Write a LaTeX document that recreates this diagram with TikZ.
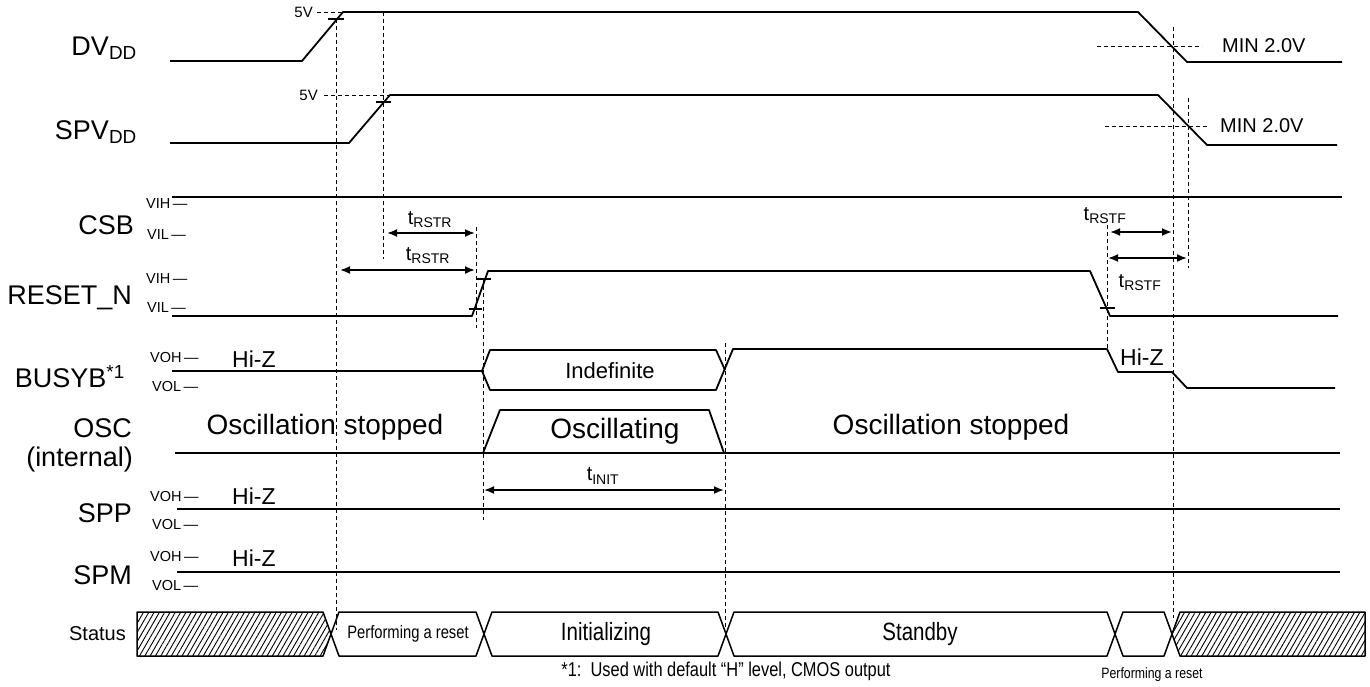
\documentclass[tikz,border=0pt]{standalone}
\usepackage{fontspec}
\setmainfont{Liberation Sans}
\newfontfamily\narrowfont[FakeStretch=0.82]{Liberation Sans}
\usetikzlibrary{arrows.meta,patterns.meta}
\begin{document}
\begin{tikzpicture}[
	x=1pt,
	y=-1pt,
	wave/.style={line width=1.8pt, line join=round},
	phasebox/.style={line width=1.5pt, line join=round},
	hatch/.style={pattern={Lines[angle=60,distance=4.6pt,line width=0.9pt]}},
	guide/.style={line width=0.9pt, dash pattern=on 4pt off 3pt},
	vtick/.style={line width=1.3pt},
	span/.style={
		line width=1.8pt,
		{Latex[length=10pt,width=8pt]}-{Latex[length=10pt,width=8pt]}
	},
	signame/.style={anchor=east, inner sep=0pt, font=\fontsize{27}{30}\selectfont},
	lvtext/.style={anchor=west, inner sep=0pt, font=\fontsize{14.5}{16}\selectfont},
	volt/.style={inner sep=0pt, font=\fontsize{15}{17}\selectfont},
	minv/.style={anchor=west, inner sep=0pt, font=\fontsize{20}{22}\selectfont},
	hiz/.style={anchor=west, inner sep=0pt, font=\fontsize{23}{25}\selectfont},
	big/.style={inner sep=0pt, font=\fontsize{28}{31}\selectfont},
	tlabel/.style={inner sep=0pt, font=\fontsize{20}{22}\selectfont},
	phase/.style={inner sep=0pt, font=\narrowfont\fontsize{25}{27}\selectfont},
	smallphase/.style={inner sep=0pt, font=\narrowfont\fontsize{18}{20}\selectfont},
	note/.style={inner sep=0pt, font=\narrowfont\fontsize{#1}{22}\selectfont}
]
\useasboundingbox (0,0) rectangle (1370,686);

\node[signame] (dvdd) at (137,48) {DV\textsubscript{DD}};
\node[signame] (spvdd) at (137,132) {SPV\textsubscript{DD}};
\node[signame] (csb) at (134,225) {CSB};
\node[signame] (resetn) at (132,298) {RESET\_N};
\node[signame] (busyb) at (125,377) {BUSYB\textsuperscript{*1}};
\node[signame] (osc) at (132,428) {OSC};
\node[signame] (oscint) at (133,460) {(internal)};
\node[signame] (spp) at (132,513) {SPP};
\node[signame] (spm) at (132,575) {SPM};
\node[signame, font=\fontsize{20}{22}\selectfont] (status) at (126,634) {Status};

\node[lvtext] (csbh) at (146,204) {VIH\,—};
\node[lvtext] (csbl) at (147,235) {VIL\,—};
\node[lvtext] (rsth) at (146,279) {VIH\,—};
\node[lvtext] (rstl) at (147,308) {VIL\,—};
\node[lvtext] (busyh) at (150,358) {VOH\,—};
\node[lvtext] (busyl) at (152,387) {VOL\,—};
\node[lvtext] (spph) at (150,496) {VOH\,—};
\node[lvtext] (sppl) at (152,524) {VOL\,—};
\node[lvtext] (spmh) at (150,556) {VOH\,—};
\node[lvtext] (spml) at (152,585) {VOL\,—};

\draw[wave] (170,61) -- (302,61) -- (343,12) -- (1138,12) -- (1187,62) -- (1342,62);
\draw[wave] (170,143) -- (349,143) -- (390,95) -- (1158,95) -- (1207,145) -- (1337,145);
\draw[wave] (172,197) -- (1342,197);
\draw[wave] (172,316) -- (472,316) -- (488,271) -- (1090,271) -- (1110,316) -- (1338,316);
\draw[wave] (172,371) -- (482,371) -- (490,350) -- (716,350) -- (725,370);
\draw[wave] (482,371) -- (490,390) -- (716,390) -- (733,349) -- (1107,349) -- (1118,372) -- (1172,372) -- (1187,388) -- (1335,388);
\draw[wave] (175,453) -- (1340,453);
\draw[wave] (483,453) -- (500,410) -- (709,410) -- (724,453);
\draw[wave] (177,509) -- (1340,509);
\draw[wave] (177,572) -- (1340,572);

\draw[vtick] (328,19) -- (344,19);
\draw[vtick] (376,102) -- (391,102);
\draw[vtick] (469,309) -- (482,309);
\draw[vtick] (476,279) -- (491,279);
\draw[vtick] (1100,308) -- (1115,308);

\node[volt, anchor=east] (fivea) at (313,12) {5V};
\node[volt, anchor=east] (fiveb) at (318,95) {5V};
\draw[guide] (fivea.east) ++(4,0) -- (343,12);
\draw[guide] (fiveb.east) ++(6,0) -- (390,95);
\node[minv] (mina) at (1222,46) {MIN 2.0V};
\node[minv] (minb) at (1220,126) {MIN 2.0V};
\draw[guide] (1097,46) -- (1202,46);
\draw[guide] (1105,126) -- (1208,126);

\draw[guide] (336,19) -- (336,630);
\draw[guide] (383,12) -- (383,259);
\draw[guide] (476,227) -- (476,328);
\draw[guide] (483,279) -- (483,520);
\draw[guide] (725,343) -- (725,630);
\draw[guide] (1107,225) -- (1107,350);
\draw[guide] (1173,27) -- (1173,618);
\draw[guide] (1188,98) -- (1188,268);

\coordinate (rstra) at (387,233);
\coordinate (rstrb) at (475,233);
\coordinate (rstrc) at (340,270);
\coordinate (rstrd) at (475,270);
\coordinate (rstfa) at (1110,232);
\coordinate (rstfb) at (1172,232);
\coordinate (rstfc) at (1108,258);
\coordinate (rstfd) at (1187,258);
\coordinate (inita) at (484,490);
\coordinate (initb) at (724,490);
\draw[span] (rstra) -- (rstrb);
\draw[span] (rstrc) -- (rstrd);
\draw[span] (rstfa) -- (rstfb);
\draw[span] (rstfc) -- (rstfd);
\draw[span] (inita) -- (initb);
\node[tlabel] (rstrtop) at (430,220) {t\textsubscript{RSTR}};
\node[tlabel] (rstrlow) at (428,256) {t\textsubscript{RSTR}};
\node[tlabel] (rstftop) at (1105,216) {t\textsubscript{RSTF}};
\node[tlabel] (rstflow) at (1140,283) {t\textsubscript{RSTF}};
\node[tlabel] (tinit) at (603,476) {t\textsubscript{INIT}};

\node[hiz] (busyz) at (232,359) {Hi-Z};
\node[hiz] (busyzr) at (1120,357) {Hi-Z};
\node[hiz] (sppz) at (232,496) {Hi-Z};
\node[hiz] (spmz) at (232,558) {Hi-Z};
\node[inner sep=0pt, font=\fontsize{22}{24}\selectfont] (indef) at (610,371) {Indefinite};
\node[big] (oscon) at (615,431) {Oscillating};
\node[big] (oscoffa) at (325,427) {Oscillation stopped};
\node[big] (oscoffb) at (951,427) {Oscillation stopped};

\draw[phasebox, hatch] (137,612) -- (323,612) -- (331,634) -- (323,656) -- (137,656) -- cycle;
\draw[phasebox] (331,634) -- (339,612) -- (476,612) -- (484,634) -- (476,656) -- (339,656) -- cycle;
\draw[phasebox] (484,634) -- (492,612) -- (718,612) -- (726,634) -- (718,656) -- (492,656) -- cycle;
\draw[phasebox] (726,634) -- (734,612) -- (1107,612) -- (1115,634) -- (1107,656) -- (734,656) -- cycle;
\draw[phasebox] (1115,634) -- (1123,612) -- (1164,612) -- (1172,634) -- (1164,656) -- (1123,656) -- cycle;
\draw[phasebox, hatch] (1172,634) -- (1180,612) -- (1365,612) -- (1365,656) -- (1180,656) -- cycle;
\node[smallphase] (reseta) at (408,634) {Performing a reset};
\node[phase] (initz) at (606,634) {Initializing};
\node[phase] (standby) at (920,634) {Standby};
\node[note=15] (resetb) at (1152,675) {Performing a reset};
\node[note=20] (foot) at (726,671) {*1:\ \ Used with default “H” level, CMOS output};

\end{tikzpicture}
\end{document}
